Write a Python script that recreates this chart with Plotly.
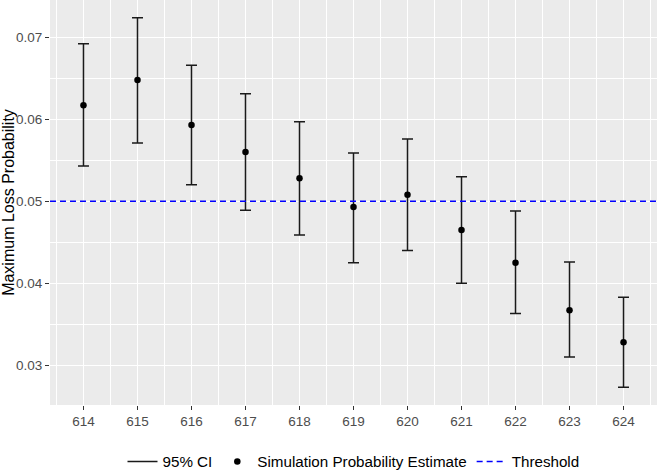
import plotly.graph_objects as go

categories = [614, 615, 616, 617, 618, 619, 620, 621, 622, 623, 624]
estimate = [0.0617, 0.0648, 0.0593, 0.0560, 0.0528, 0.0493, 0.0508, 0.0465, 0.0425, 0.0367, 0.0328]
upper = [0.0692, 0.0724, 0.0666, 0.0631, 0.0597, 0.0559, 0.0576, 0.0530, 0.0488, 0.0426, 0.0383]
lower = [0.0543, 0.0571, 0.0520, 0.0489, 0.0459, 0.0425, 0.0440, 0.0400, 0.0363, 0.0310, 0.0273]
threshold = 0.05
y_ticks = [0.03, 0.04, 0.05, 0.06, 0.07]
y_tick_labels = ["0.03", "0.04", "0.05", "0.06", "0.07"]

FONT = "Liberation Sans, Arial, Helvetica, sans-serif"

fig = go.Figure()

# CI error bars (invisible markers carrying error bars)
fig.add_trace(go.Scatter(
    x=categories, y=estimate, mode="markers",
    marker=dict(size=0.1, color="rgba(0,0,0,0)"),
    error_y=dict(type="data", symmetric=False,
                 array=[u - e for u, e in zip(upper, estimate)],
                 arrayminus=[e - l for e, l in zip(estimate, lower)],
                 color="#1a1a1a", thickness=1.5, width=5.5),
    showlegend=False, hoverinfo="skip"))

# legend entry for CI
fig.add_trace(go.Scatter(
    x=[None], y=[None], mode="lines", name="95% CI",
    line=dict(color="#1a1a1a", width=1.5)))

fig.add_trace(go.Scatter(
    x=categories, y=estimate, mode="markers", name="Simulation Probability Estimate",
    marker=dict(size=6.5, color="black")))

xmin = min(categories) - 0.62
xmax = max(categories) + 0.62
fig.add_trace(go.Scatter(
    x=[xmin, xmax], y=[threshold, threshold], mode="lines", name="Threshold",
    line=dict(color="#0000ff", width=1.5, dash="6px,4px")))

fig.update_layout(
    width=657, height=472,
    margin=dict(l=50, r=0, t=0, b=67),
    paper_bgcolor="white",
    plot_bgcolor="#ebebeb",
    font=dict(family=FONT, color="#4d4d4d", size=13.5),
    legend=dict(orientation="h", x=0.5, xanchor="center",
                yref="container", y=0.022, yanchor="middle",
                font=dict(family=FONT, size=15.2, color="black"),
                itemwidth=30, bgcolor="rgba(0,0,0,0)"),
)

fig.update_xaxes(
    range=[xmin, xmax], tickmode="array", tickvals=categories,
    ticktext=[str(c) for c in categories],
    showgrid=True, gridcolor="white", gridwidth=1.2,
    minor=dict(tick0=613.5, dtick=1, showgrid=True, gridcolor="white", gridwidth=0.6),
    ticks="outside", ticklen=4, tickcolor="#333333", tickwidth=1.1,
    zeroline=False, showline=False, automargin=False,
    tickfont=dict(size=13.5, color="#4d4d4d"),
)

fig.update_yaxes(
    range=[0.02515, 0.07455], tickmode="array", tickvals=y_ticks, ticktext=y_tick_labels,
    showgrid=True, gridcolor="white", gridwidth=1.2,
    minor=dict(tick0=0.025, dtick=0.01, showgrid=True, gridcolor="white", gridwidth=0.6),
    ticks="outside", ticklen=4, tickcolor="#333333", tickwidth=1.1,
    zeroline=False, showline=False, automargin=False,
    tickfont=dict(size=13.5, color="#4d4d4d"),
    title=dict(text="Maximum Loss Probability", font=dict(size=16, color="black"), standoff=2),
)

fig.write_html("out.html", config={"displayModeBar": False},
               post_script="document.body.style.margin='0';")
